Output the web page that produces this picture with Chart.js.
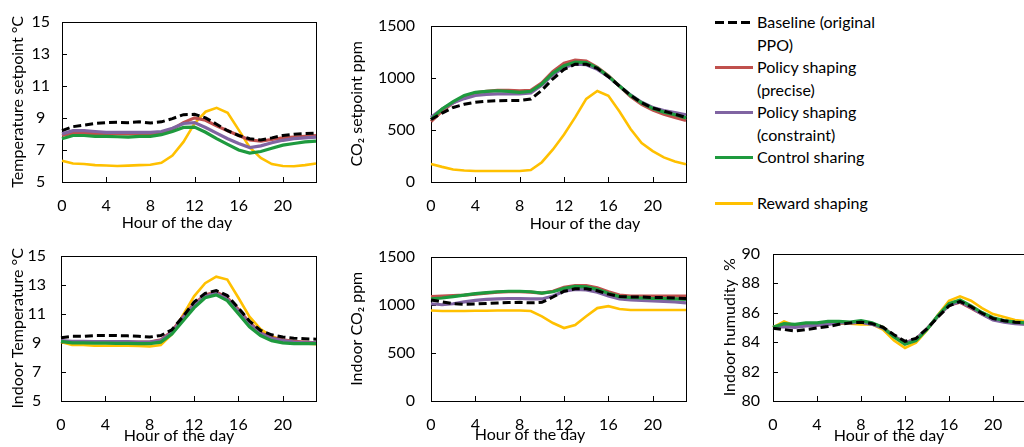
<!DOCTYPE html>
<html>
<head>
<meta charset="utf-8">
<script src="https://cdn.jsdelivr.net/npm/chart.js@4/dist/chart.umd.min.js"></script>
<style>
    html, body { margin: 0; padding: 0; background: #fff; width: 1024px; height: 447px; overflow: hidden; }
    canvas { position: absolute; }
    #legend { position: absolute; left: 715px; top: 11px; font-family: Lato, "Open Sans", sans-serif; font-size: 16px; line-height: 22.5px; color: #000; }
    .entry { display: flex; align-items: flex-start; }
    .entry svg { flex: none; }
    .entry .text { width: 132px; padding-left: 4px; }
</style>
</head>
<body>
<canvas id="tempSetpoint"></canvas>
<canvas id="co2Setpoint"></canvas>
<canvas id="indoorTemp"></canvas>
<canvas id="indoorCo2"></canvas>
<canvas id="indoorHumidity"></canvas>
<div id="legend"></div>

<script>
// Hourly profiles
const hours = [0, 1, 2, 3, 4, 5, 6, 7, 8, 9, 10, 11, 12, 13, 14, 15, 16, 17, 18, 19, 20, 21, 22, 23];

const seriesNames = ['Baseline (original PPO)', 'Policy shaping (precise)', 'Policy shaping (constraint)', 'Control sharing', 'Reward shaping'];
const seriesColors = ['#000000', '#c0504d', '#8064a2', '#1e9a3e', '#ffc000'];

// Temperature setpoint (°C)
const tsBaseline   = [8.2, 8.45, 8.55, 8.65, 8.7, 8.72, 8.7, 8.75, 8.68, 8.75, 8.95, 9.2, 9.22, 9.0, 8.6, 8.2, 7.9, 7.7, 7.62, 7.75, 7.9, 7.98, 8.02, 8.05];
const tsPrecise    = [7.9, 8.05, 8.05, 8.0, 8.0, 8.0, 8.0, 8.0, 8.0, 8.05, 8.3, 8.7, 9.0, 8.85, 8.5, 8.2, 7.9, 7.62, 7.55, 7.65, 7.75, 7.8, 7.85, 7.9];
const tsConstraint = [8.0, 8.2, 8.2, 8.15, 8.1, 8.1, 8.1, 8.1, 8.1, 8.15, 8.35, 8.65, 8.7, 8.4, 8.05, 7.7, 7.4, 7.15, 7.25, 7.45, 7.6, 7.7, 7.75, 7.8];
const tsControl    = [7.7, 7.9, 7.9, 7.85, 7.85, 7.82, 7.8, 7.85, 7.85, 7.95, 8.15, 8.4, 8.42, 8.1, 7.7, 7.35, 7.0, 6.8, 6.9, 7.1, 7.3, 7.4, 7.5, 7.55];
const tsReward     = [6.33, 6.15, 6.12, 6.05, 6.03, 6.0, 6.02, 6.05, 6.08, 6.2, 6.65, 7.5, 8.65, 9.38, 9.62, 9.32, 8.25, 7.15, 6.5, 6.12, 6.0, 5.98, 6.05, 6.15];

// CO2 setpoint (ppm)
const csBaseline   = [600, 660, 715, 745, 765, 775, 780, 782, 782, 795, 880, 990, 1080, 1130, 1130, 1090, 1010, 920, 830, 760, 710, 680, 650, 620];
const csPrecise    = [580, 680, 760, 820, 855, 870, 880, 880, 875, 880, 950, 1060, 1140, 1170, 1160, 1100, 1020, 920, 820, 745, 690, 650, 620, 590];
const csConstraint = [620, 700, 760, 800, 830, 840, 845, 845, 845, 855, 930, 1030, 1100, 1130, 1125, 1080, 1010, 920, 835, 765, 715, 685, 665, 645];
const csControl    = [600, 700, 770, 830, 860, 870, 875, 870, 860, 870, 940, 1045, 1115, 1150, 1145, 1095, 1015, 920, 830, 760, 705, 670, 645, 615];
const csReward     = [173, 145, 120, 110, 105, 105, 105, 105, 105, 115, 190, 312, 455, 620, 797, 873, 827, 676, 509, 373, 297, 236, 197, 170];

// Indoor temperature (°C)
const itBaseline   = [9.35, 9.45, 9.45, 9.5, 9.5, 9.5, 9.48, 9.45, 9.4, 9.5, 9.9, 10.8, 11.8, 12.4, 12.6, 12.25, 11.4, 10.5, 9.85, 9.55, 9.4, 9.32, 9.28, 9.25];
const itPrecise    = [9.1, 9.05, 9.05, 9.05, 9.05, 9.05, 9.05, 9.05, 9.05, 9.2, 9.8, 10.8, 11.7, 12.3, 12.5, 12.1, 11.3, 10.4, 9.7, 9.35, 9.2, 9.1, 9.05, 9.0];
const itConstraint = [9.15, 9.1, 9.1, 9.08, 9.08, 9.08, 9.08, 9.05, 9.05, 9.15, 9.7, 10.7, 11.6, 12.2, 12.4, 12.0, 11.2, 10.3, 9.65, 9.3, 9.15, 9.05, 9.0, 9.0];
const itControl    = [9.1, 9.0, 9.0, 8.98, 8.98, 8.97, 8.97, 8.95, 8.95, 9.05, 9.6, 10.5, 11.4, 12.1, 12.3, 11.9, 11.0, 10.1, 9.5, 9.15, 9.0, 8.95, 8.95, 8.95];
const itReward     = [9.05, 8.85, 8.85, 8.8, 8.8, 8.8, 8.8, 8.78, 8.75, 8.85, 9.6, 10.9, 12.2, 13.1, 13.55, 13.35, 12.1, 10.8, 9.95, 9.45, 9.2, 9.05, 8.95, 8.9];

// Indoor CO2 (ppm)
const icBaseline   = [1050, 1030, 1010, 1005, 1008, 1012, 1018, 1022, 1025, 1020, 1025, 1080, 1140, 1165, 1165, 1145, 1110, 1085, 1080, 1080, 1075, 1075, 1070, 1065];
const icPrecise    = [1085, 1090, 1095, 1100, 1110, 1120, 1130, 1135, 1135, 1130, 1120, 1140, 1180, 1200, 1200, 1175, 1135, 1100, 1090, 1090, 1090, 1090, 1090, 1090];
const icConstraint = [1010, 1000, 1010, 1030, 1045, 1055, 1060, 1065, 1065, 1060, 1060, 1090, 1140, 1160, 1155, 1130, 1090, 1060, 1050, 1045, 1040, 1035, 1030, 1020];
const icControl    = [1060, 1070, 1085, 1100, 1115, 1125, 1135, 1140, 1140, 1135, 1120, 1135, 1170, 1190, 1185, 1160, 1120, 1085, 1075, 1070, 1065, 1065, 1060, 1055];
const icReward     = [940, 935, 935, 935, 937, 938, 940, 940, 940, 935, 880, 810, 758, 790, 880, 965, 985, 955, 945, 945, 945, 945, 945, 945];

// Indoor humidity (%)
const ihBaseline   = [84.93, 84.85, 84.75, 84.85, 84.95, 85.05, 85.2, 85.3, 85.35, 85.25, 85.0, 84.5, 84.05, 84.25, 84.9, 85.7, 86.45, 86.75, 86.4, 85.95, 85.6, 85.45, 85.35, 85.3];
const ihPrecise    = [85.0, 85.1, 85.05, 85.15, 85.15, 85.25, 85.3, 85.3, 85.35, 85.25, 85.0, 84.4, 83.95, 84.2, 84.9, 85.75, 86.5, 86.7, 86.3, 85.9, 85.55, 85.4, 85.3, 85.25];
const ihConstraint = [84.95, 85.05, 85.0, 85.1, 85.15, 85.2, 85.3, 85.3, 85.35, 85.2, 84.95, 84.4, 83.95, 84.2, 84.9, 85.75, 86.5, 86.75, 86.35, 85.9, 85.5, 85.35, 85.25, 85.2];
const ihControl    = [85.0, 85.25, 85.2, 85.3, 85.3, 85.4, 85.4, 85.35, 85.45, 85.3, 85.0, 84.35, 83.85, 84.1, 84.85, 85.8, 86.6, 86.85, 86.45, 86.0, 85.65, 85.45, 85.35, 85.3];
const ihReward     = [85.0, 85.4, 85.1, 85.25, 85.2, 85.3, 85.25, 85.25, 85.2, 85.2, 84.85, 84.1, 83.6, 83.95, 84.8, 85.85, 86.8, 87.1, 86.8, 86.3, 85.9, 85.7, 85.5, 85.4];

const FONT = 'Lato, "Open Sans", sans-serif';
const seriesWidths = [3, 3.2, 3.2, 3.2, 2.6];
const seriesDashes = [[8, 4], [], [], [], []];
const drawOrder = [0, 3, 2, 1, 4];   // baseline on top, then control sharing

// Frame, inward tick marks and the x-axis title
const panelFrame = {
    id: 'panelFrame',
    beforeDatasetsDraw(chart, args, opts) {
        const ctx = chart.ctx;
        const a = chart.chartArea;
        const xs = chart.scales.x;
        const ys = chart.scales.y;
        ctx.save();
        ctx.strokeStyle = '#000';
        ctx.lineWidth = 1;
        ctx.strokeRect(Math.round(a.left) + 0.5, Math.round(a.top) + 0.5, Math.round(a.right - a.left), Math.round(a.bottom - a.top));
        ctx.beginPath();
        ys.ticks.forEach(t => {
            const y = Math.round(ys.getPixelForValue(t.value)) + 0.5;
            ctx.moveTo(a.left, y);
            ctx.lineTo(a.left + 5, y);
        });
        hours.forEach((h, i) => {
            if (i % 4 !== 0) return;
            const x = Math.round(xs.getPixelForValue(i)) + 0.5;
            ctx.moveTo(x, a.bottom);
            ctx.lineTo(x, a.bottom - 5);
        });
        ctx.stroke();
        ctx.restore();
    },
    afterDraw(chart, args, opts) {
        const ctx = chart.ctx;
        ctx.save();
        ctx.fillStyle = '#000';
        ctx.font = '16px ' + FONT;
        ctx.textAlign = 'center';
        ctx.textBaseline = 'middle';
        ctx.fillText(opts.text, opts.x, opts.y);
        ctx.restore();
    }
};

function makePanel(canvasId, cfg) {
    const canvas = document.getElementById(canvasId);
    const box = cfg.canvas;
    const area = cfg.area;
    canvas.width = box.w;
    canvas.height = box.h;
    canvas.style.left = box.x + 'px';
    canvas.style.top = box.y + 'px';
    const yWidth = area.left - box.x;
    const xHeight = box.y + box.h - area.bottom;

    new Chart(canvas.getContext('2d'), {
        type: 'line',
        data: {
            labels: hours,
            datasets: cfg.series.map((values, i) => ({
                label: seriesNames[i],
                data: values,
                borderColor: seriesColors[i],
                backgroundColor: seriesColors[i],
                borderWidth: seriesWidths[i],
                borderDash: seriesDashes[i],
                pointRadius: 0,
                tension: 0,
                fill: false,
                order: drawOrder[i]
            }))
        },
        options: {
            responsive: false,
            animation: false,
            layout: {
                padding: { top: area.top - box.y, right: box.x + box.w - area.right, left: 0, bottom: 0 }
            },
            plugins: {
                legend: { display: false },
                tooltip: { enabled: false },
                panelFrame: { text: 'Hour of the day', x: cfg.xTitle.x - box.x, y: cfg.xTitle.y - box.y }
            },
            scales: {
                x: {
                    grid: { display: false, drawTicks: false },
                    border: { display: false },
                    ticks: {
                        autoSkip: false,
                        maxRotation: 0,
                        padding: 14,
                        color: '#000',
                        font: { family: FONT, size: 16 },
                        callback: (value, index) => index % 4 === 0 ? hours[index] : ''
                    },
                    afterFit: scale => { scale.height = xHeight; }
                },
                y: {
                    min: cfg.yMin,
                    max: cfg.yMax,
                    grid: { display: false, drawTicks: false },
                    border: { display: false },
                    ticks: {
                        stepSize: cfg.yStep,
                        padding: cfg.yTickPad,
                        crossAlign: cfg.yTickAlign,
                        color: '#000',
                        font: { family: FONT, size: 16 },
                        callback: value => String(value)
                    },
                    title: {
                        display: true,
                        text: cfg.yTitle,
                        color: '#000',
                        padding: { top: 0, bottom: 0 },
                        font: { family: FONT, size: 16 }
                    },
                    afterFit: scale => { scale.width = yWidth; }
                }
            }
        },
        plugins: [panelFrame]
    });
}

function buildLegend() {
    const legend = document.getElementById('legend');
    seriesNames.forEach((name, i) => {
        const entry = document.createElement('div');
        entry.className = 'entry';
        if (i === seriesNames.length - 1) entry.style.marginTop = '23px';
        const dash = seriesDashes[i].length ? 'stroke-dasharray="9 4"' : '';
        entry.innerHTML =
            '<svg width="38" height="22" viewBox="0 0 38 22"><line x1="0" y1="11.5" x2="38" y2="11.5" stroke="' +
            seriesColors[i] + '" stroke-width="3" ' + dash + '/></svg>' +
            '<div class="text">' + name + '</div>';
        legend.appendChild(entry);
    });
}

makePanel('tempSetpoint', {
    canvas: { x: 8, y: 0, w: 322, h: 236 },
    area: { left: 62, top: 16, right: 324, bottom: 182 },
    xTitle: { x: 177, y: 223 },
    yMin: 5, yMax: 15, yStep: 2, yTickPad: 12, yTickAlign: 'center',
    yTitle: 'Temperature setpoint °C',
    series: [tsBaseline, tsPrecise, tsConstraint, tsControl, tsReward]
});

makePanel('co2Setpoint', {
    canvas: { x: 347, y: 0, w: 353, h: 236 },
    area: { left: 431, top: 16, right: 695, bottom: 182 },
    xTitle: { x: 585, y: 224 },
    yMin: 0, yMax: 1500, yStep: 500, yTickPad: 16, yTickAlign: 'near',
    yTitle: 'CO₂ setpoint ppm',
    series: [csBaseline, csPrecise, csConstraint, csControl, csReward]
});

makePanel('indoorTemp', {
    canvas: { x: 8, y: 231, w: 322, h: 216 },
    area: { left: 61, top: 247, right: 324, bottom: 401 },
    xTitle: { x: 179, y: 436 },
    yMin: 5, yMax: 15, yStep: 2, yTickPad: 15, yTickAlign: 'center',
    yTitle: 'Indoor Temperature °C',
    series: [itBaseline, itPrecise, itConstraint, itControl, itReward]
});

makePanel('indoorCo2', {
    canvas: { x: 347, y: 231, w: 353, h: 216 },
    area: { left: 431, top: 247, right: 695, bottom: 401 },
    xTitle: { x: 530, y: 435 },
    yMin: 0, yMax: 1500, yStep: 500, yTickPad: 16, yTickAlign: 'near',
    yTitle: 'Indoor CO₂ ppm',
    series: [icBaseline, icPrecise, icConstraint, icControl, icReward]
});

makePanel('indoorHumidity', {
    canvas: { x: 720, y: 231, w: 320, h: 216 },
    area: { left: 773, top: 247, right: 1035, bottom: 401 },
    xTitle: { x: 889, y: 436 },
    yMin: 80, yMax: 90, yStep: 2, yTickPad: 13, yTickAlign: 'near',
    yTitle: 'Indoor humudity  %',
    series: [ihBaseline, ihPrecise, ihConstraint, ihControl, ihReward]
});

buildLegend();
</script>
</body>
</html>
